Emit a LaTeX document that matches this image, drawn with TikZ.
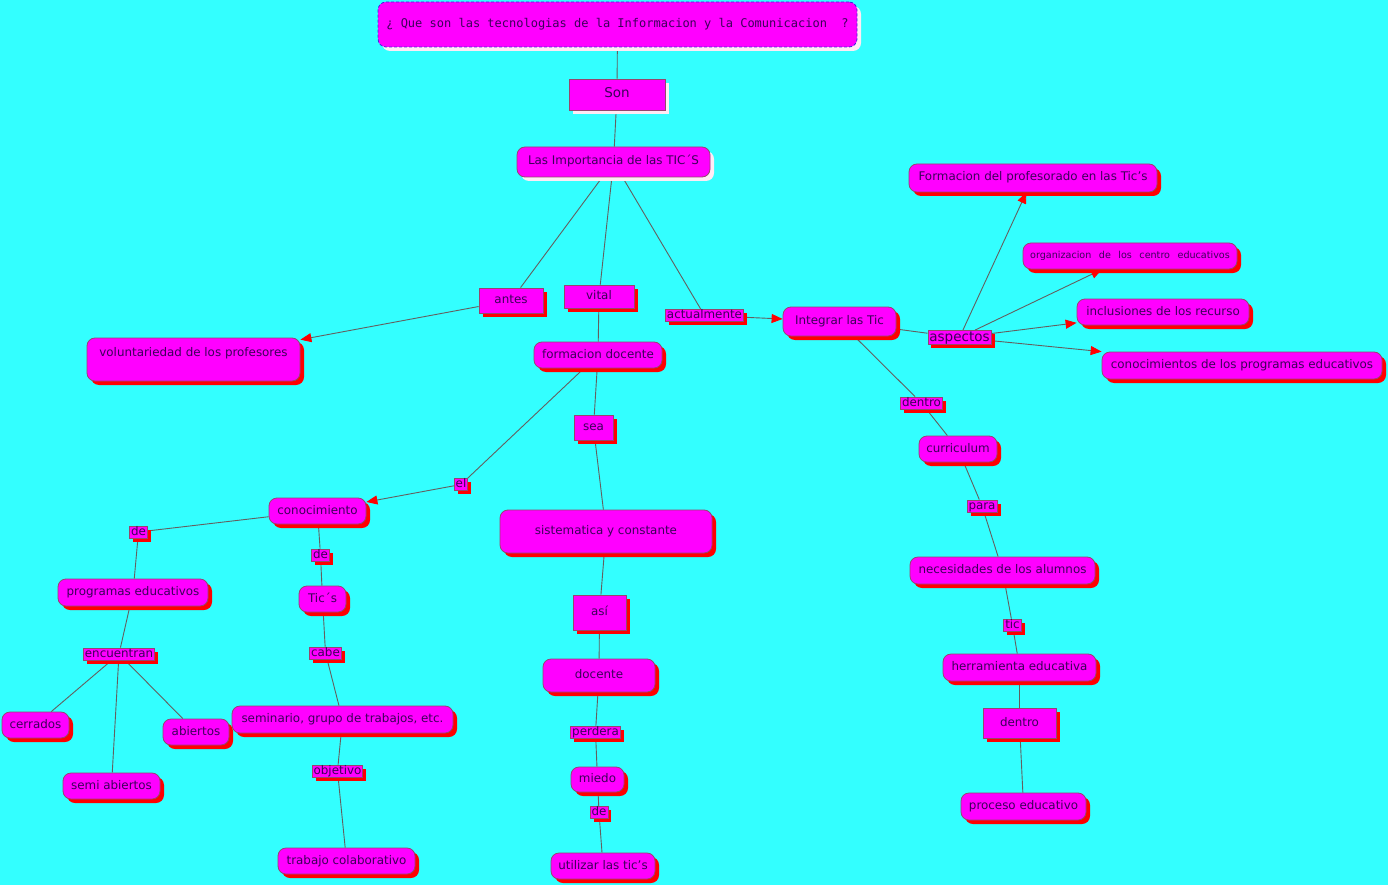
\documentclass[tikz,border=0pt]{standalone}
\usepackage{fontspec}
\setmainfont{DejaVu Sans}
\setmonofont{DejaVu Sans Mono}
\usetikzlibrary{shadows,arrows.meta}
\pgfdeclarelayer{bg}
\pgfdeclarelayer{edges}
\pgfsetlayers{bg,edges,main}
\definecolor{bgc}{RGB}{51,255,255}
\definecolor{mag}{RGB}{255,0,255}
\definecolor{txt}{RGB}{60,0,90}
\definecolor{bord}{RGB}{150,70,110}
\definecolor{lnc}{RGB}{100,95,95}
\definecolor{ttlb}{RGB}{60,40,220}
\definecolor{wsh}{RGB}{255,235,245}
\begin{document}
\begin{tikzpicture}[x=1pt,y=-1pt,
  base/.style={fill=mag, draw=bord, line width=0.8pt, text=txt,
    font=\fontsize{11.9}{13}\selectfont, inner sep=0pt,
    text height=8.5pt, text depth=2.5pt},
  rshadow/.style={drop shadow={shadow xshift=4pt, shadow yshift=-4pt, fill=red, opacity=1}},
  wshadow/.style={drop shadow={shadow xshift=4pt, shadow yshift=-4pt, fill=wsh, opacity=1}},
  concept/.style={base, rounded corners=8pt, rshadow},
  sqbox/.style={base, rshadow},
  lbl/.style={base, inner xsep=1.5pt, inner ysep=0.5pt,
    drop shadow={shadow xshift=3.5pt, shadow yshift=-3.5pt, fill=red, opacity=1}},
  conn/.style={draw=lnc, line width=0.9pt},
  arr/.style={conn, -{Triangle[length=11pt,width=9pt,fill=red,color=red]}},
]
\begin{pgfonlayer}{bg}
\fill[bgc] (0,0) rectangle (1388,885);
\end{pgfonlayer}
\useasboundingbox (0,0) rectangle (1388,885);

% top
\node[base, rounded corners=8pt, draw=ttlb, dash pattern=on 3pt off 2pt, wshadow,
  font=\ttfamily\fontsize{12}{14}\selectfont, minimum width=479pt, minimum height=45pt]
  (title) at (617.5,24.5) {¿ Que son las tecnologias de la Informacion y la Comunicacion\ \ ?};
\node[base, wshadow, font=\fontsize{13.5}{15}\selectfont, text height=10pt, text depth=3pt,
  minimum width=96pt, minimum height=31pt] (son) at (617,94.5) {Son};
\node[base, rounded corners=8pt, wshadow, minimum width=193pt, minimum height=30pt]
  (imp) at (613.5,162) {Las Importancia de las TIC´S};

% second level
\node[sqbox, minimum width=64pt, minimum height=25pt] (antes) at (511,300.5) {antes};
\node[sqbox, minimum width=70pt, minimum height=23pt] (vital) at (599,296.5) {vital};
\node[lbl] (actual) at (704.5,315.5) {actualmente};
\node[concept, minimum width=113pt, minimum height=29pt] (integrar) at (839.5,321.5) {Integrar las Tic};
\node[lbl, font=\fontsize{13.5}{15}\selectfont, text height=10pt, text depth=3pt] (aspectos) at (959.5,337.5) {aspectos};

% right aspects
\node[concept, minimum width=248pt, minimum height=28pt] (formprof) at (1033,178) {Formacion del profesorado en las Tic's};
\node[concept, minimum width=214pt, minimum height=26pt, font=\fontsize{9.6}{11}\selectfont, text height=7pt, text depth=2pt]
  (organiz) at (1130,256) {organizacion\hspace{7.5pt}de\hspace{7.5pt}los\hspace{7.5pt}centro\hspace{7.5pt}educativos};
\node[concept, minimum width=172pt, minimum height=26pt] (inclus) at (1163,312) {inclusiones de los recurso};
\node[concept, minimum width=280pt, minimum height=27pt] (conocprog) at (1242,365.5) {conocimientos de los programas educativos};

% left
\node[concept, minimum width=213pt, minimum height=43pt, text height=18pt, text depth=25pt]
  (volunt) at (193.5,359.5) {voluntariedad de los profesores};

% middle column
\node[concept, minimum width=128pt, minimum height=26pt] (formdoc) at (598,355) {formacion docente};
\node[sqbox, minimum width=39pt, minimum height=25pt] (sea) at (593.5,427.5) {sea};
\node[lbl] (el) at (461,484.5) {el};
\node[concept, minimum width=212pt, minimum height=43pt] (sistem) at (606,531.5) {sistematica y constante};
\node[sqbox, minimum width=53pt, minimum height=35pt] (asi) at (599.5,612.5) {así};
\node[concept, minimum width=112pt, minimum height=33pt] (docente) at (599,675.5) {docente};
\node[lbl] (perdera) at (595.5,732) {perdera};
\node[concept, minimum width=53pt, minimum height=25pt] (miedo) at (597.5,779.5) {miedo};
\node[lbl] (de3) at (599,812.5) {de};
\node[concept, minimum width=104pt, minimum height=26pt] (utilizar) at (603,866) {utilizar las tic's};

% conocimiento subtree
\node[concept, minimum width=97pt, minimum height=26pt] (conoc) at (317.5,511) {conocimiento};
\node[lbl] (de1) at (138.5,532) {de};
\node[lbl] (de2) at (320.5,555) {de};
\node[concept, minimum width=150pt, minimum height=27pt] (progedu) at (133,592.5) {programas educativos};
\node[concept, minimum width=47pt, minimum height=26pt] (tics) at (322.5,599) {Tic´s};
\node[lbl] (encuent) at (119,654) {encuentran};
\node[lbl] (cabe) at (325.5,653) {cabe};
\node[concept, minimum width=67pt, minimum height=26pt] (cerrados) at (35.5,725) {cerrados};
\node[concept, minimum width=66pt, minimum height=26pt] (abiertos) at (196,732) {abiertos};
\node[concept, minimum width=97pt, minimum height=26pt] (semiab) at (111.5,786) {semi abiertos};
\node[concept, minimum width=221pt, minimum height=27pt] (seminario) at (342.5,719.5) {seminario, grupo de trabajos, etc.};
\node[lbl] (objetivo) at (337.5,771) {objetivo};
\node[concept, minimum width=137pt, minimum height=26pt] (trabajo) at (346.5,861) {trabajo colaborativo};

% right column
\node[lbl] (dentro1) at (921.5,403) {dentro};
\node[concept, minimum width=78pt, minimum height=26pt] (curric) at (958,449) {curriculum};
\node[lbl] (para) at (982,506) {para};
\node[concept, minimum width=185pt, minimum height=27pt] (necesid) at (1002.5,570.5) {necesidades de los alumnos};
\node[lbl] (tic) at (1012.5,625) {tic};
\node[concept, minimum width=153pt, minimum height=27pt] (herram) at (1019.5,667.5) {herramienta educativa};
\node[sqbox, minimum width=73pt, minimum height=30pt] (dentro2) at (1019.5,723) {dentro};
\node[concept, minimum width=125pt, minimum height=27pt] (proceso) at (1023.5,806.5) {proceso educativo};

\begin{pgfonlayer}{edges}
\draw[conn] (title) -- (son);
\draw[conn] (son) -- (imp);
\draw[conn] (imp) -- (antes);
\draw[conn] (imp) -- (vital);
\draw[conn] (imp) -- (actual);
\draw[arr] (antes) -- (volunt);
\draw[conn] (vital) -- (formdoc);
\draw[arr] (actual) -- (integrar);
\draw[conn] (integrar) -- (aspectos);
\draw[arr] (aspectos) -- (formprof);
\draw[arr] (aspectos) -- (organiz);
\draw[arr] (aspectos) -- (inclus);
\draw[arr] (aspectos) -- (conocprog);
\draw[conn] (integrar) -- (dentro1);
\draw[conn] (dentro1) -- (curric);
\draw[conn] (curric) -- (para);
\draw[conn] (para) -- (necesid);
\draw[conn] (necesid) -- (tic);
\draw[conn] (tic) -- (herram);
\draw[conn] (herram) -- (dentro2);
\draw[conn] (dentro2) -- (proceso);
\draw[conn] (formdoc) -- (sea);
\draw[conn] (sea) -- (sistem);
\draw[conn] (sistem) -- (asi);
\draw[conn] (asi) -- (docente);
\draw[conn] (docente) -- (perdera);
\draw[conn] (perdera) -- (miedo);
\draw[conn] (miedo) -- (de3);
\draw[conn] (de3) -- (utilizar);
\draw[conn] (formdoc) -- (el);
\draw[arr] (el) -- (conoc);
\draw[conn] (conoc) -- (de1);
\draw[conn] (de1) -- (progedu);
\draw[conn] (progedu) -- (encuent);
\draw[conn] (encuent) -- (cerrados);
\draw[conn] (encuent) -- (abiertos);
\draw[conn] (encuent) -- (semiab);
\draw[conn] (conoc) -- (de2);
\draw[conn] (de2) -- (tics);
\draw[conn] (tics) -- (cabe);
\draw[conn] (cabe) -- (seminario);
\draw[conn] (seminario) -- (objetivo);
\draw[conn] (objetivo) -- (trabajo);
\end{pgfonlayer}
\end{tikzpicture}
\end{document}
